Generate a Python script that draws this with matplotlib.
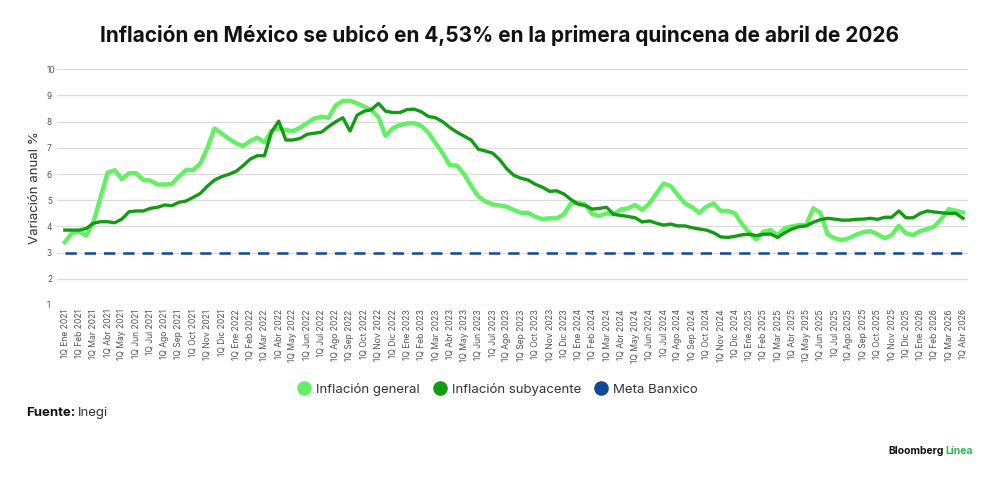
import matplotlib
matplotlib.use("Agg")
import matplotlib.pyplot as plt
from matplotlib.lines import Line2D
import numpy as np

plt.rcParams['font.family'] = ['Inter', 'DejaVu Sans']

### Datos (quincenales, 1Q Ene 2021 -> 1Q Abr 2026)
meses = ['Ene', 'Feb', 'Mar', 'Abr', 'May', 'Jun', 'Jul', 'Ago', 'Sep', 'Oct', 'Nov', 'Dic']
anios = [2021, 2022, 2023, 2024, 2025, 2026]

inflacion_general = [
    3.40, 3.75, 3.80, 3.65, 4.15, 5.10, 6.05, 6.15, 5.80, 6.03,
    6.03, 5.78, 5.75, 5.60, 5.60, 5.62, 5.90, 6.15, 6.15, 6.40,
    7.00, 7.74, 7.55, 7.35, 7.18, 7.07, 7.26, 7.39, 7.21, 7.65,
    7.74, 7.68, 7.64, 7.77, 7.95, 8.12, 8.19, 8.15, 8.62, 8.79,
    8.80, 8.70, 8.58, 8.44, 8.17, 7.46, 7.75, 7.87, 7.93, 7.94,
    7.84, 7.58, 7.18, 6.80, 6.34, 6.32, 6.00, 5.55, 5.15, 4.95,
    4.84, 4.80, 4.75, 4.63, 4.52, 4.52, 4.37, 4.28, 4.31, 4.31,
    4.46, 4.88, 4.90, 4.84, 4.47, 4.40, 4.50, 4.47, 4.65, 4.69,
    4.82, 4.63, 4.88, 5.26, 5.64, 5.54, 5.20, 4.88, 4.73, 4.52,
    4.75, 4.88, 4.59, 4.59, 4.50, 4.09, 3.77, 3.50, 3.80, 3.86,
    3.67, 3.93, 4.00, 4.05, 4.05, 4.69, 4.52, 3.70, 3.55, 3.48,
    3.55, 3.68, 3.78, 3.82, 3.70, 3.55, 3.67, 4.02, 3.74, 3.67,
    3.82, 3.90, 4.00, 4.30, 4.66, 4.60, 4.53,
]

inflacion_subyacente = [
    3.86, 3.86, 3.86, 3.92, 4.12, 4.18, 4.18, 4.14, 4.28, 4.56,
    4.59, 4.59, 4.69, 4.73, 4.82, 4.79, 4.92, 4.97, 5.11, 5.26,
    5.54, 5.77, 5.90, 5.99, 6.10, 6.32, 6.57, 6.70, 6.70, 7.61,
    8.02, 7.30, 7.30, 7.36, 7.52, 7.56, 7.60, 7.81, 8.00, 8.15,
    7.64, 8.25, 8.40, 8.46, 8.70, 8.40, 8.35, 8.35, 8.46, 8.48,
    8.38, 8.20, 8.15, 8.00, 7.78, 7.60, 7.45, 7.30, 6.95, 6.88,
    6.80, 6.55, 6.20, 5.95, 5.84, 5.77, 5.61, 5.50, 5.34, 5.36,
    5.24, 5.03, 4.85, 4.80, 4.66, 4.69, 4.73, 4.46, 4.42, 4.38,
    4.33, 4.17, 4.21, 4.12, 4.05, 4.09, 4.02, 4.02, 3.95, 3.90,
    3.86, 3.76, 3.60, 3.58, 3.62, 3.68, 3.70, 3.65, 3.70, 3.71,
    3.58, 3.76, 3.90, 3.99, 4.02, 4.16, 4.26, 4.31, 4.28, 4.24,
    4.24, 4.27, 4.28, 4.31, 4.27, 4.35, 4.35, 4.59, 4.33, 4.33,
    4.50, 4.59, 4.55, 4.52, 4.50, 4.50, 4.31,
]

meta_banxico = 3.0

### Etiquetas del eje X (solo la primera quincena de cada mes)
etiquetas = []
for anio in anios:
    for mes in meses:
        etiquetas.append(f"1Q {mes} {anio}")
etiquetas = etiquetas[:len(inflacion_general) // 2 + 1]

x = np.arange(len(inflacion_general))
pos_etiquetas = x[::2]

### Colores
verde_claro = '#66ee66'
verde_oscuro = '#159a15'
azul = '#0e4a96'

fig = plt.figure(figsize=(10, 4.8), dpi=100)
ax = fig.add_axes([0.057, 0.3646, 0.911, 0.4910])

ax.plot(x, [meta_banxico] * len(x), color=azul, lw=1.8, dashes=(4.5, 3.2), zorder=2)
ax.plot(x, inflacion_general, color=verde_claro, lw=3.2, solid_joinstyle='round', zorder=3)
ax.plot(x, inflacion_subyacente, color=verde_oscuro, lw=2.4, solid_joinstyle='round', zorder=4)

ax.set_xlim(-1.1, 126.7)
ax.set_ylim(1, 10)
ax.set_yticks(range(1, 11))
ax.grid(axis='y', color='#dcdcdc', lw=0.9)
ax.set_axisbelow(True)
for s in ax.spines.values():
    s.set_visible(False)

ax.set_xticks(pos_etiquetas)
ax.set_xticklabels(etiquetas, rotation=90, fontsize=6.2, color='#555555')
ax.tick_params(axis='both', length=0)
ax.tick_params(axis='x', pad=3)
ax.tick_params(axis='y', pad=0, labelsize=6.0, labelcolor='#555555')
for lab in ax.get_yticklabels():
    lab.set_horizontalalignment('left')
    lab.set_x(-0.011)

ax.set_ylabel('Variación anual %', fontsize=9.5, color='#333333', labelpad=4)

### Titulo
fig.text(0.5, 0.925, 'Inflación en México se ubicó en 4,53% en la primera quincena de abril de 2026',
         ha='center', va='center', fontsize=15.0, fontweight='bold', color='#111111')

### Leyenda
handles = [
    Line2D([], [], ls='none', marker='o', ms=9.5, color=verde_claro),
    Line2D([], [], ls='none', marker='o', ms=9.5, color=verde_oscuro),
    Line2D([], [], ls='none', marker='o', ms=9.5, color=azul),
]
fig.legend(handles, ['Inflación general', 'Inflación subyacente', 'Meta Banxico'],
           loc='center', bbox_to_anchor=(0.497, 0.189), ncol=3, frameon=False,
           fontsize=9.5, handletextpad=0.3, columnspacing=0.9, handlelength=1.2,
           labelcolor='#333333')

### Fuente y marca
fig.text(0.026, 0.139, 'Fuente:', fontsize=9.5, fontweight='bold', color='#111111', va='center')
fig.text(0.078, 0.139, 'Inegi', fontsize=9.5, color='#333333', va='center')
fig.text(0.888, 0.06, 'Bloomberg', fontsize=7.5, fontweight='bold', color='#111111', va='center')
fig.text(0.945, 0.06, 'Línea', fontsize=7.5, fontweight='bold', color='#2db84a', va='center')

fig.savefig('out.png', dpi=100, facecolor='white')
plt.close(fig)
